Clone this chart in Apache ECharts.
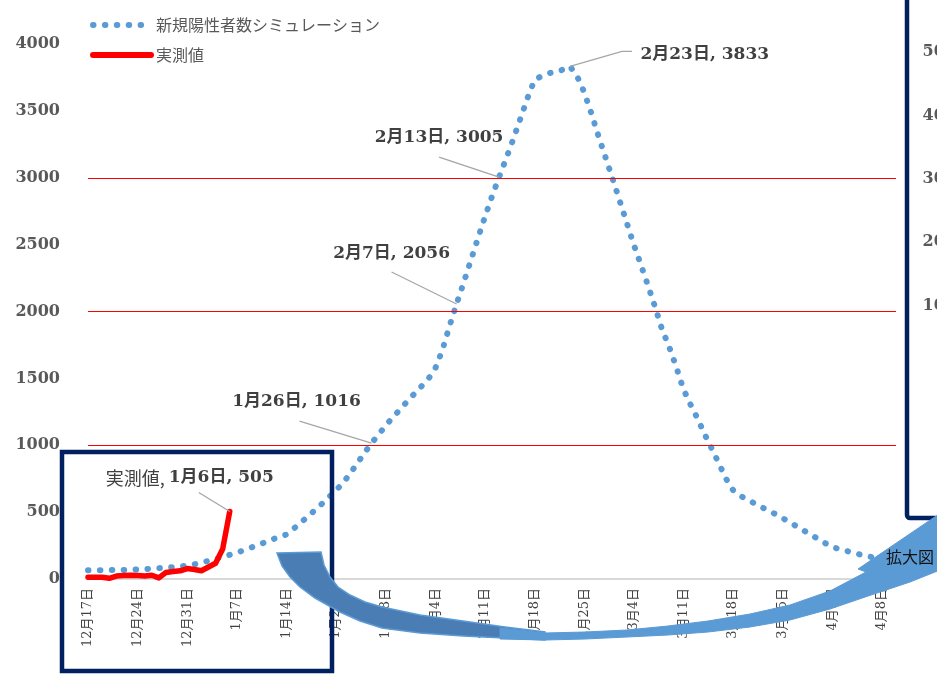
<!DOCTYPE html>
<html>
<head>
<meta charset="utf-8">
<script src="https://cdn.jsdelivr.net/npm/echarts@6/dist/echarts.min.js"></script>
<style>html,body{margin:0;padding:0;background:#fff}#c{width:937px;height:674px}</style>
</head>
<body>
<div id="c"></div>
<script>
// ---- data ----
var startDate = [2021, 12, 17];      // first category (12月17日)
var dayCount = 115;                  // 12月17日 .. 4月10日
var simName = '新規陽性者数シミュレーション';
var realName = '実測値';
var simValues = [
  65, 66, 66, 67, 67, 68, 69, 71, 74, 77,
  81, 85, 89, 94, 99, 110, 123, 136, 150, 165,
  181, 197, 215, 235, 254, 275, 296, 314, 333, 375,
  421, 466, 514, 562, 612, 664, 718, 790, 866, 941,
  1016, 1080, 1147, 1208, 1266, 1325, 1382, 1438, 1495, 1575,
  1712, 1890, 2056, 2215, 2380, 2545, 2707, 2860, 3005, 3145,
  3288, 3440, 3595, 3731, 3760, 3781, 3792, 3808, 3833, 3760,
  3640, 3485, 3315, 3155, 2995, 2830, 2665, 2500, 2350, 2195,
  2035, 1865, 1735, 1585, 1420, 1305, 1200, 1082, 975, 865,
  752, 665, 623, 595, 566, 538, 512, 485, 455, 425,
  393, 362, 330, 300, 268, 240, 223, 210, 196, 182,
  170, 160, 150, 141, 133
];
var realValues = [13, 13, 13, 5, 22, 26, 28, 26, 22, 28, 8, 49, 56, 61, 78, 71, 62, 90, 118, 225, 505];
var simLabelDays = [40, 52, 58, 68];   // indices with data labels
var realLabelDays = [20];
var thresholds = [1000, 2000, 3000];
var yTicks = {min: 0, max: 4000, interval: 500};
var insetTicks = {min: 0, max: 500, interval: 100};

// categories
var categories = [];
(function(){
  var d = new Date(startDate[0], startDate[1]-1, startDate[2]);
  for (var i = 0; i < dayCount; i++) {
    categories.push((d.getMonth()+1) + '月' + d.getDate() + '日');
    d.setDate(d.getDate()+1);
  }
})();

var serif = "'DejaVu Serif', 'Noto Sans CJK JP', serif";
var sans = "'Noto Sans CJK JP', 'Noto Sans', sans-serif";

var simData = simValues.map(function(v, i){
  if (simLabelDays.indexOf(i) >= 0) {
    return {value: v, label: {show: true, position: i === 68 ? 'right' : 'top',
      formatter: categories[i] + ', ' + v}};
  }
  return v;
});
var realData = realValues.map(function(v, i){
  if (realLabelDays.indexOf(i) >= 0) {
    return {value: v, label: {show: true, position: 'top',
      formatter: '{a|' + realName + ', }{b|' + categories[i] + ', ' + v + '}'}};
  }
  return v;
});

// label placement (pixel offsets from the point) and leader line shapes
var simOffsets = {40: [-75, -28], 52: [-65, -36], 58: [-60, -26], 68: [65, -12]};
var realOffsets = {20: [-40, -19]};
var leaderPoints = simLabelDays.map(function(i){ return [i, simValues[i]]; })
  .concat(realLabelDays.map(function(i){ return [i, realValues[i]]; }));
var leaderShapes = {40: [[-72, -22]], 52: [[-65, -32]], 58: [[-60, -20]], 68: [[52, -15], [62, -15]], 20: [[-31, -19]]};

// decorative curved arrow
var darkPts = [[277,553],[321,552],[324,565],[330,577],[338,587],[350,595],[365,602],[382,607],[420,615],
  [463,621],[505,627],[545,632],[545,640],[505,638],[463,636],[420,633],[382,628],[360,621],[340,612],
  [315,598],[300,587],[290,577],[282,566]];
var lightPts = [[500,628],[545,633],[585,632],[627,630],[668,626],[708,621],[750,614],[790,605],[830,591],
  [866,572],[858,569],[945,510],[945,568],[910,582],[871,595],[830,609],[790,620],[750,627],[708,632],
  [668,635],[627,637],[585,639],[545,640],[500,639]];

var chart = echarts.init(document.getElementById('c'), null, {renderer: 'canvas'});
chart.setOption({
  animation: false,
  backgroundColor: '#ffffff',
  legend: {
    orient: 'vertical', left: 85, top: 12, itemWidth: 58, itemHeight: 14, itemGap: 14,
    textStyle: {fontFamily: sans, fontSize: 16, color: '#595959'},
    data: [
      {name: simName, lineStyle: {width: 6, type: [0.5, 11.4], cap: 'round', color: '#5b9bd5'}},
      {name: realName, lineStyle: {width: 6, cap: 'round', color: '#ff0000'}}
    ]
  },
  grid: [
    {left: 88, right: 41, top: 44, bottom: 95, containLabel: false},
    {left: 962, width: 200, top: 52, height: 317, containLabel: false}
  ],
  xAxis: [{
    type: 'category', data: categories, boundaryGap: false,
    axisLine: {lineStyle: {color: '#d9d9d9', width: 2}},
    axisTick: {show: false},
    axisLabel: {interval: 6, rotate: 90, margin: 9, fontFamily: serif, fontSize: 13, color: '#404040'},
    splitLine: {show: false}
  }, {
    gridIndex: 1, type: 'value', min: 0, max: 1, show: false
  }],
  yAxis: [{
    type: 'value', min: yTicks.min, max: yTicks.max, interval: yTicks.interval,
    axisLine: {show: false}, axisTick: {show: false}, splitLine: {show: false},
    axisLabel: {margin: 28, fontFamily: serif, fontWeight: 'bold', fontSize: 16, color: '#595959',
      formatter: function(v){ return String(v); }}
  }, {
    gridIndex: 1, type: 'value', min: insetTicks.min, max: insetTicks.max, interval: insetTicks.interval,
    axisLine: {show: false}, axisTick: {show: false}, splitLine: {show: false},
    axisLabel: {margin: 6, fontFamily: serif, fontWeight: 'bold', fontSize: 16, color: '#595959',
      formatter: function(v){ return String(v); }}
  }],
  series: [{
    name: simName, type: 'line', data: simData, xAxisIndex: 0, yAxisIndex: 0,
    smooth: false, symbol: 'circle', symbolSize: 1, showSymbol: true, showAllSymbol: true,
    itemStyle: {color: 'rgba(91,155,213,0)'},
    lineStyle: {color: '#5b9bd5', width: 6, type: [0.5, 11.4], cap: 'round'},
    label: {show: false, fontFamily: serif, fontWeight: 'bold', fontSize: 17, color: '#404040'},
    labelLayout: function(p){ var o = simOffsets[p.dataIndex]; if (!o) return {}; return {dx: o[0], dy: o[1]}; },
    z: 3,
    markLine: {
      silent: true, symbol: 'none', label: {show: false},
      lineStyle: {color: '#ff0000', width: 1.2, type: 'solid'},
      data: thresholds.map(function(t){ return {yAxis: t}; })
    }
  }, {
    name: realName, type: 'line', data: realData, xAxisIndex: 0, yAxisIndex: 0,
    smooth: false, symbol: 'circle', symbolSize: 1, showSymbol: true, showAllSymbol: true,
    itemStyle: {color: 'rgba(255,0,0,0)'},
    lineStyle: {color: '#ff0000', width: 5.5, cap: 'round', join: 'round'},
    label: {show: false, fontFamily: serif, fontWeight: 'bold', fontSize: 17, color: '#404040',
      rich: {a: {fontFamily: sans, fontWeight: 'normal', fontSize: 18, color: '#404040'},
             b: {fontFamily: serif, fontWeight: 'bold', fontSize: 17, color: '#404040'}}},
    labelLayout: function(p){ var o = realOffsets[p.dataIndex]; if (!o) return {}; return {dx: o[0], dy: o[1]}; },
    z: 4
  }, {
    name: 'leader', type: 'custom', xAxisIndex: 0, yAxisIndex: 0, data: leaderPoints, clip: false,
    silent: true, z: 5,
    renderItem: function(params, api){
      var idx = api.value(0);
      var p = api.coord([idx, api.value(1)]);
      var pts = [p].concat(leaderShapes[idx].map(function(o){ return [p[0]+o[0], p[1]+o[1]]; }));
      return {type: 'polyline', shape: {points: pts}, style: {stroke: '#a6a6a6', lineWidth: 1.3, fill: null}};
    }
  }],
  graphic: [
    {type: 'rect', z: -5, shape: {x: 907, y: -10, width: 80, height: 528, r: 3},
     style: {fill: '#ffffff', stroke: '#002060', lineWidth: 4.5}},
    {type: 'rect', z: 50, shape: {x: 62, y: 452, width: 270, height: 219},
     style: {fill: 'none', stroke: '#002060', lineWidth: 4.5}},
    {type: 'polygon', z: 60, shape: {points: darkPts},
     style: {fill: '#4a7db3', stroke: '#5b9bd5', lineWidth: 1.5}},
    {type: 'polygon', z: 61, shape: {points: lightPts},
     style: {fill: '#5b9bd5', stroke: '#5b9bd5', lineWidth: 1}},
    {type: 'text', z: 70, x: 886, y: 557, style: {text: '拡大図', font: '16px ' + sans, fill: '#111111', verticalAlign: 'middle'}}
  ]
});
</script>
</body>
</html>
